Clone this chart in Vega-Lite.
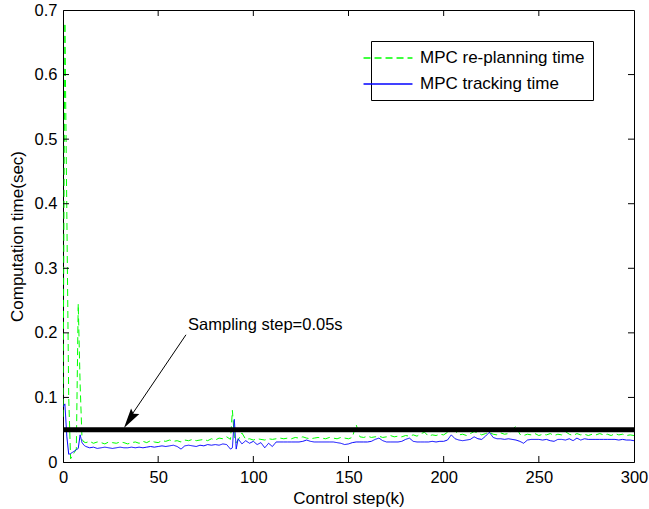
{
  "$schema": "https://vega.github.io/schema/vega-lite/v6.json",
  "width": 571,
  "height": 452,
  "autosize": {"type": "none"},
  "padding": {"left": 63, "top": 10, "right": 15, "bottom": 47},
  "background": "white",
  "config": {
    "font": "Liberation Sans",
    "view": {"stroke": "black", "strokeWidth": 1},
    "axis": {
      "domainColor": "black",
      "labelColor": "black",
      "titleColor": "black",
      "labelFontSize": 16.5,
      "titleFontSize": 17,
      "titleFontWeight": "normal",
      "grid": false,
      "ticks": false,
      "labelFlush": false,
      "labelOverlap": false
    },
    "legend": {
      "orient": "none",
      "legendX": 308,
      "legendY": 31,
      "title": null,
      "strokeColor": "black",
      "fillColor": "white",
      "padding": 8,
      "symbolType": "M-3.06,0L3.06,0",
      "symbolSize": 256,
      "symbolStrokeWidth": 1.3,
      "labelFontSize": 17,
      "labelOffset": 23,
      "rowPadding": 9,
      "labelLimit": 300,
      "labelColor": "black"
    }
  },
  "datasets": {
    "series": [
      {"k":0,"g":0.070,"b":0.085},{"k":1,"g":0.680,"b":0.090},{"k":2,"g":0.390,"b":0.040},{"k":3,"g":0.100,"b":0.012},
      {"k":4,"g":0.005,"b":0.013},{"k":5,"g":0.010,"b":0.015},{"k":6,"g":0.015,"b":0.017},{"k":7,"g":0.020,"b":0.019},
      {"k":8,"g":0.245,"b":0.021},{"k":9,"g":0.120,"b":0.042},{"k":10,"g":0.035,"b":0.030},{"k":11,"g":0.031,"b":0.026},
      {"k":12,"g":0.030,"b":0.024},{"k":14,"g":0.032,"b":0.022},{"k":16,"g":0.029,"b":0.023},{"k":18,"g":0.031,"b":0.021},
      {"k":20,"g":0.030,"b":0.022},{"k":22,"g":0.028,"b":0.023},{"k":24,"g":0.031,"b":0.022},{"k":26,"g":0.030,"b":0.021},
      {"k":28,"g":0.029,"b":0.022},{"k":30,"g":0.031,"b":0.023},{"k":32,"g":0.030,"b":0.022},{"k":34,"g":0.028,"b":0.022},
      {"k":36,"g":0.030,"b":0.023},{"k":38,"g":0.031,"b":0.022},{"k":40,"g":0.029,"b":0.023},{"k":42,"g":0.032,"b":0.022},
      {"k":44,"g":0.030,"b":0.023},{"k":46,"g":0.033,"b":0.024},{"k":48,"g":0.031,"b":0.023},{"k":50,"g":0.030,"b":0.024},
      {"k":52,"g":0.033,"b":0.025},{"k":54,"g":0.032,"b":0.024},{"k":56,"g":0.034,"b":0.025},{"k":58,"g":0.032,"b":0.026},
      {"k":60,"g":0.033,"b":0.024},{"k":62,"g":0.031,"b":0.020},{"k":64,"g":0.034,"b":0.025},{"k":66,"g":0.033,"b":0.026},
      {"k":68,"g":0.035,"b":0.025},{"k":70,"g":0.033,"b":0.024},{"k":72,"g":0.034,"b":0.026},{"k":74,"g":0.035,"b":0.025},
      {"k":76,"g":0.033,"b":0.027},{"k":78,"g":0.036,"b":0.026},{"k":80,"g":0.034,"b":0.027},{"k":82,"g":0.037,"b":0.026},
      {"k":84,"g":0.036,"b":0.028},{"k":86,"g":0.039,"b":0.027},{"k":88,"g":0.035,"b":0.020},{"k":89,"g":0.080,"b":0.022},
      {"k":90,"g":0.040,"b":0.066},{"k":91,"g":0.030,"b":0.020},{"k":92,"g":0.034,"b":0.036},{"k":94,"g":0.045,"b":0.028},
      {"k":96,"g":0.035,"b":0.033},{"k":98,"g":0.036,"b":0.029},{"k":100,"g":0.034,"b":0.032},{"k":102,"g":0.036,"b":0.027},
      {"k":104,"g":0.035,"b":0.030},{"k":106,"g":0.034,"b":0.022},{"k":108,"g":0.036,"b":0.029},{"k":110,"g":0.035,"b":0.024},
      {"k":112,"g":0.036,"b":0.031},{"k":114,"g":0.037,"b":0.031},{"k":116,"g":0.036,"b":0.031},{"k":118,"g":0.037,"b":0.031},
      {"k":120,"g":0.036,"b":0.031},{"k":122,"g":0.038,"b":0.031},{"k":124,"g":0.037,"b":0.031},{"k":126,"g":0.039,"b":0.032},
      {"k":128,"g":0.037,"b":0.034},{"k":130,"g":0.036,"b":0.032},{"k":132,"g":0.037,"b":0.031},{"k":134,"g":0.038,"b":0.031},
      {"k":136,"g":0.037,"b":0.031},{"k":138,"g":0.036,"b":0.031},{"k":140,"g":0.038,"b":0.031},{"k":142,"g":0.037,"b":0.031},
      {"k":144,"g":0.036,"b":0.030},{"k":146,"g":0.038,"b":0.029},{"k":148,"g":0.037,"b":0.027},{"k":150,"g":0.036,"b":0.028},
      {"k":152,"g":0.038,"b":0.030},{"k":154,"g":0.058,"b":0.031},{"k":156,"g":0.039,"b":0.031},{"k":158,"g":0.038,"b":0.031},
      {"k":160,"g":0.040,"b":0.031},{"k":162,"g":0.038,"b":0.032},{"k":164,"g":0.039,"b":0.035},{"k":166,"g":0.040,"b":0.037},
      {"k":168,"g":0.038,"b":0.033},{"k":170,"g":0.039,"b":0.031},{"k":172,"g":0.041,"b":0.031},{"k":174,"g":0.039,"b":0.031},
      {"k":176,"g":0.040,"b":0.031},{"k":178,"g":0.039,"b":0.032},{"k":180,"g":0.041,"b":0.035},{"k":182,"g":0.040,"b":0.037},
      {"k":184,"g":0.042,"b":0.032},{"k":186,"g":0.040,"b":0.031},{"k":188,"g":0.044,"b":0.031},{"k":190,"g":0.046,"b":0.031},
      {"k":192,"g":0.040,"b":0.031},{"k":194,"g":0.042,"b":0.032},{"k":196,"g":0.041,"b":0.031},{"k":198,"g":0.043,"b":0.032},
      {"k":200,"g":0.042,"b":0.032},{"k":202,"g":0.046,"b":0.034},{"k":204,"g":0.050,"b":0.042},{"k":206,"g":0.048,"b":0.036},
      {"k":208,"g":0.042,"b":0.034},{"k":210,"g":0.043,"b":0.033},{"k":212,"g":0.041,"b":0.034},{"k":214,"g":0.044,"b":0.035},
      {"k":216,"g":0.047,"b":0.039},{"k":218,"g":0.045,"b":0.036},{"k":220,"g":0.042,"b":0.035},{"k":222,"g":0.044,"b":0.040},
      {"k":224,"g":0.046,"b":0.046},{"k":226,"g":0.043,"b":0.038},{"k":228,"g":0.042,"b":0.036},{"k":230,"g":0.045,"b":0.036},
      {"k":232,"g":0.043,"b":0.035},{"k":234,"g":0.044,"b":0.036},{"k":236,"g":0.049,"b":0.035},{"k":238,"g":0.056,"b":0.034},
      {"k":240,"g":0.043,"b":0.032},{"k":242,"g":0.041,"b":0.029},{"k":244,"g":0.043,"b":0.034},{"k":246,"g":0.042,"b":0.035},
      {"k":248,"g":0.044,"b":0.035},{"k":250,"g":0.041,"b":0.035},{"k":252,"g":0.043,"b":0.034},{"k":254,"g":0.042,"b":0.035},
      {"k":256,"g":0.044,"b":0.033},{"k":258,"g":0.041,"b":0.032},{"k":260,"g":0.043,"b":0.035},{"k":262,"g":0.042,"b":0.035},
      {"k":264,"g":0.047,"b":0.034},{"k":266,"g":0.043,"b":0.036},{"k":268,"g":0.041,"b":0.033},{"k":270,"g":0.044,"b":0.037},
      {"k":272,"g":0.042,"b":0.034},{"k":274,"g":0.043,"b":0.036},{"k":276,"g":0.041,"b":0.035},{"k":278,"g":0.043,"b":0.035},
      {"k":280,"g":0.042,"b":0.035},{"k":282,"g":0.044,"b":0.035},{"k":284,"g":0.042,"b":0.035},{"k":286,"g":0.043,"b":0.035},
      {"k":288,"g":0.041,"b":0.035},{"k":290,"g":0.044,"b":0.035},{"k":292,"g":0.042,"b":0.034},{"k":294,"g":0.043,"b":0.035},
      {"k":296,"g":0.041,"b":0.034},{"k":298,"g":0.042,"b":0.034},{"k":300,"g":0.041,"b":0.033}
    ],
    "thr": [{"k0": 0, "k1": 300, "v": 0.05}],
    "xt": [{"v": 50}, {"v": 100}, {"v": 150}, {"v": 200}, {"v": 250}],
    "yt": [{"v": 0.1}, {"v": 0.2}, {"v": 0.3}, {"v": 0.4}, {"v": 0.5}, {"v": 0.6}],
    "ann": [{"k": 65.7, "t": 0.212, "label": "Sampling step=0.05s"}],
    "arrow": [{"k": 64.6, "t": 0.197}, {"k": 34.5, "t": 0.066}],
    "head": [{"k": 35.5, "t": 0.068}]
  },
  "layer": [
    {
      "data": {"name": "series"},
      "transform": [{"fold": ["g", "b"], "as": ["s", "t"]}],
      "mark": {"type": "line", "strokeWidth": 1, "clip": true},
      "encoding": {
        "x": {"field": "k", "type": "quantitative", "scale": {"domain": [0, 300], "nice": false, "zero": false},
              "axis": {"orient": "bottom", "title": "Control step(k)", "values": [0, 50, 100, 150, 200, 250, 300], "labelPadding": 7, "titlePadding": 5}},
        "y": {"field": "t", "type": "quantitative", "scale": {"domain": [0, 0.7], "nice": false, "zero": false},
              "axis": {"orient": "left", "title": "Computation time(sec)", "values": [0, 0.1, 0.2, 0.3, 0.4, 0.5, 0.6, 0.7], "format": ".1~f", "labelPadding": 6, "titlePadding": 8}},
        "color": {"field": "s", "type": "nominal", "scale": {"domain": ["g", "b"], "range": ["#00ff00", "#0000ff"]},
                  "legend": {"labelExpr": "datum.label == 'g' ? 'MPC re-planning time' : 'MPC tracking time'"}},
        "strokeDash": {"field": "s", "type": "nominal", "scale": {"domain": ["g", "b"], "range": [[7, 4], [1, 0]]},
                  "legend": {"labelExpr": "datum.label == 'g' ? 'MPC re-planning time' : 'MPC tracking time'"}}
      }
    },
    {
      "data": {"name": "thr"},
      "mark": {"type": "rule", "strokeWidth": 5, "color": "black"},
      "encoding": {
        "x": {"field": "k0", "type": "quantitative", "scale": {"domain": [0, 300], "nice": false, "zero": false}},
        "x2": {"field": "k1"},
        "y": {"field": "v", "type": "quantitative", "scale": {"domain": [0, 0.7], "nice": false, "zero": false}}
      }
    },
    {
      "data": {"name": "xt"},
      "mark": {"type": "rule", "strokeWidth": 1, "color": "black"},
      "encoding": {
        "x": {"field": "v", "type": "quantitative", "scale": {"domain": [0, 300], "nice": false, "zero": false}},
        "y": {"datum": 0, "type": "quantitative", "scale": {"domain": [0, 0.7], "nice": false, "zero": false}},
        "y2": {"datum": 0.0093}
      }
    },
    {
      "data": {"name": "xt"},
      "mark": {"type": "rule", "strokeWidth": 1, "color": "black"},
      "encoding": {
        "x": {"field": "v", "type": "quantitative", "scale": {"domain": [0, 300], "nice": false, "zero": false}},
        "y": {"datum": 0.6907, "type": "quantitative", "scale": {"domain": [0, 0.7], "nice": false, "zero": false}},
        "y2": {"datum": 0.7}
      }
    },
    {
      "data": {"name": "yt"},
      "mark": {"type": "rule", "strokeWidth": 1, "color": "black"},
      "encoding": {
        "y": {"field": "v", "type": "quantitative", "scale": {"domain": [0, 0.7], "nice": false, "zero": false}},
        "x": {"datum": 0, "type": "quantitative", "scale": {"domain": [0, 300], "nice": false, "zero": false}},
        "x2": {"datum": 3.15}
      }
    },
    {
      "data": {"name": "yt"},
      "mark": {"type": "rule", "strokeWidth": 1, "color": "black"},
      "encoding": {
        "y": {"field": "v", "type": "quantitative", "scale": {"domain": [0, 0.7], "nice": false, "zero": false}},
        "x": {"datum": 296.85, "type": "quantitative", "scale": {"domain": [0, 300], "nice": false, "zero": false}},
        "x2": {"datum": 300}
      }
    },
    {
      "data": {"name": "arrow"},
      "mark": {"type": "line", "color": "black", "strokeWidth": 1},
      "encoding": {
        "x": {"field": "k", "type": "quantitative", "scale": {"domain": [0, 300], "nice": false, "zero": false}},
        "y": {"field": "t", "type": "quantitative", "scale": {"domain": [0, 0.7], "nice": false, "zero": false}}
      }
    },
    {
      "data": {"name": "head"},
      "mark": {"type": "point", "shape": "M0,-1L0.42,0.7L0,0.45L-0.42,0.7Z", "filled": true, "color": "black", "opacity": 1, "size": 560, "angle": 214},
      "encoding": {
        "x": {"field": "k", "type": "quantitative", "scale": {"domain": [0, 300], "nice": false, "zero": false}},
        "y": {"field": "t", "type": "quantitative", "scale": {"domain": [0, 0.7], "nice": false, "zero": false}}
      }
    },
    {
      "data": {"name": "ann"},
      "mark": {"type": "text", "align": "left", "baseline": "middle", "fontSize": 16.5, "color": "black"},
      "encoding": {
        "x": {"field": "k", "type": "quantitative", "scale": {"domain": [0, 300], "nice": false, "zero": false}},
        "y": {"field": "t", "type": "quantitative", "scale": {"domain": [0, 0.7], "nice": false, "zero": false}},
        "text": {"field": "label"}
      }
    }
  ]
}
